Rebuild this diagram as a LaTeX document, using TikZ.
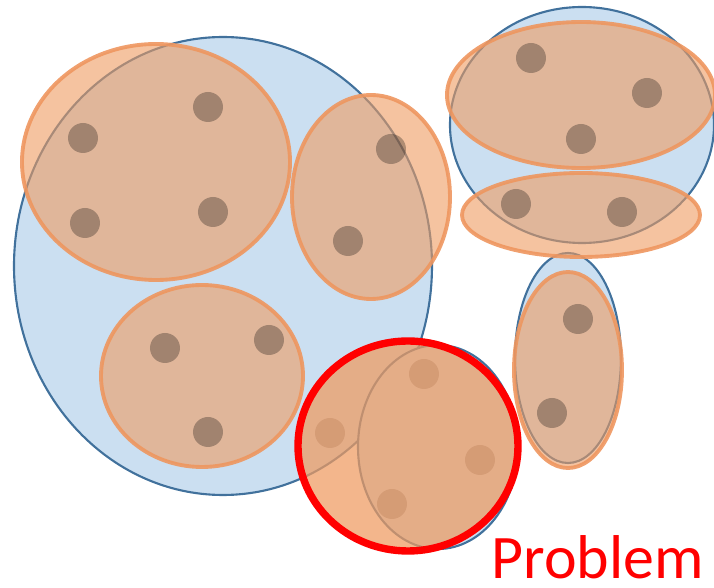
\documentclass[tikz,border=0pt]{standalone}
\usepackage{fontspec}
\newfontfamily\probfont{Carlito}
\usepackage{tikz}
\definecolor{setblue}{RGB}{203,223,241}
\definecolor{lineblue}{RGB}{65,113,156}
\definecolor{setorange}{RGB}{238,155,97}
\definecolor{rimorange}{RGB}{238,150,95}
\tikzset{
	blueset/.style={draw=lineblue,line width=0.6pt,fill=setblue},
	orangeset/.style={draw=rimorange,line width=1.1pt,fill=setorange,fill opacity=0.6,draw opacity=0.9},
	item/.style={fill=black,fill opacity=0.28},
	problem/.style={draw=red,line width=2.1pt,fill=setorange,fill opacity=0.73}
}

\begin{document}
\begin{tikzpicture}[x=0.01cm,y=-0.01cm]
	\useasboundingbox (0,0) rectangle (714,588);
	% blue sets
	\draw[blueset] (223,266) ellipse [x radius=209,y radius=229];
	\draw[blueset] (582,125) ellipse [x radius=132,y radius=118];
	\draw[blueset] (568,358) ellipse [x radius=53,y radius=105];
	\draw[blueset] (438,447) ellipse [x radius=80,y radius=102];
	% orange sets
	\draw[orangeset] (156,162) ellipse [x radius=134,y radius=118];
	\draw[orangeset] (371,197) ellipse [x radius=79,y radius=102];
	\draw[orangeset] (202,376) ellipse [x radius=101,y radius=91];
	\draw[orangeset] (581,95) ellipse [x radius=134,y radius=73];
	\draw[orangeset] (581,215) ellipse [x radius=119,y radius=42];
	\draw[orangeset] (568,370) ellipse [x radius=54,y radius=98];
	% items
	\foreach \p in {(83,138),(208,107),(85,223),(213,212),
		(391,149),(348,241),
		(165,348),(269,340),(208,432),
		(531,58),(647,93),(581,139),(516,204),(622,212),
		(578,319),(552,413),
		(424,374),(330,433),(480,460),(392,504)}
		\fill[item] \p circle (15);
	% the problem set
	\draw[problem] (408,446) ellipse [x radius=110,y radius=105];
	\node[anchor=base west,inner sep=0pt,text=red,font=\probfont\fontsize{17.6}{20}\selectfont] (prob) at (491,579) {Problem};
\end{tikzpicture}
\end{document}
